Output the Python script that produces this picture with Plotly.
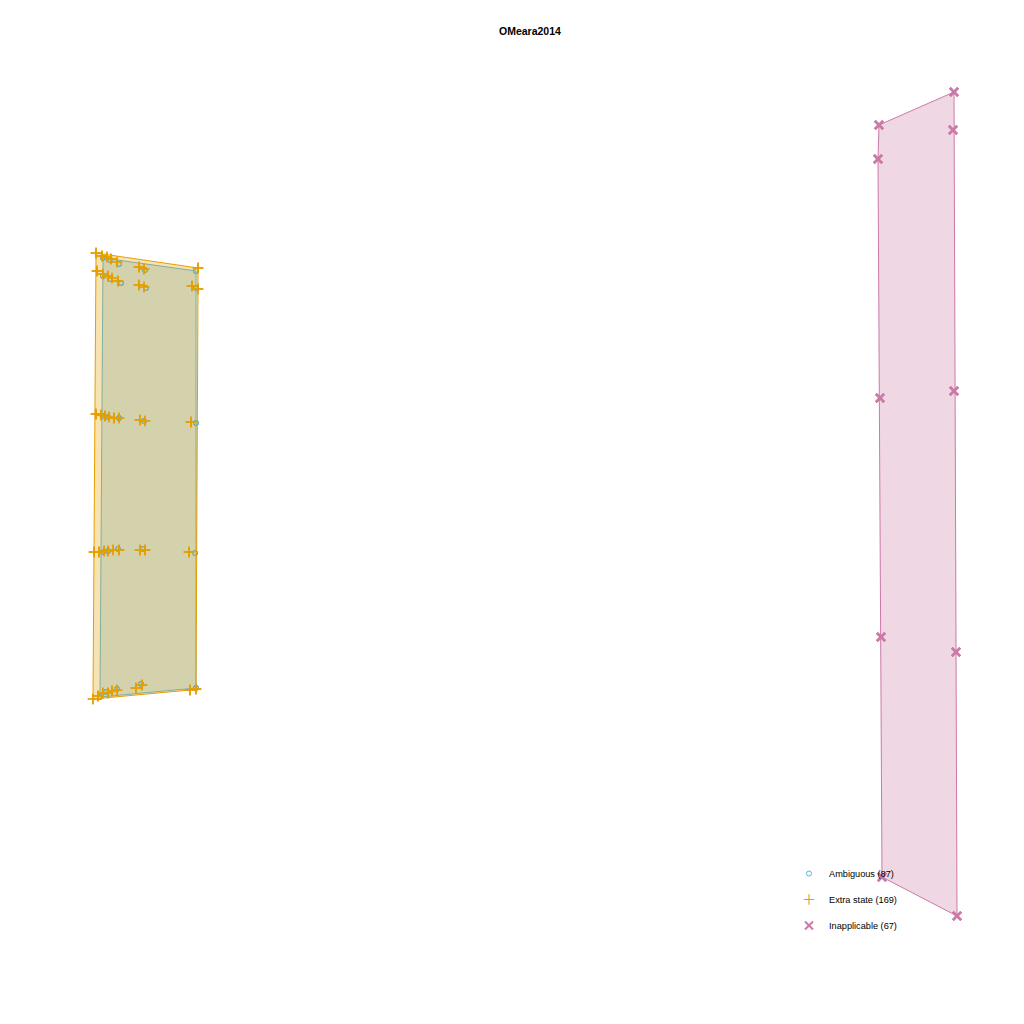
import numpy as np
import plotly.graph_objects as go

title_text = "OMeara2014"

# Group names and colours (Okabe-Ito)
groups = ["Ambiguous", "Extra state", "Inapplicable"]
colors = ["#56B4E9", "#E69F00", "#CC79A7"]
fills = ["rgba(86,180,233,0.3)", "rgba(230,159,0,0.3)", "rgba(204,121,167,0.3)"]

# Ordination coordinates, with multiplicity of overlapping points
amb_x = [103, 110, 119, 145, 196,
         103, 110, 121, 146, 196,
         103, 108, 119, 144, 196,
         103, 108, 118, 143, 195,
         100, 106, 117, 141, 196]
amb_y = [258, 260, 264, 270, 271,
         276, 279, 283, 288, 288,
         416, 417, 418, 421, 423,
         552, 551, 549, 549, 553,
         697, 692, 689, 684, 688]
amb_n = [3, 3, 3, 3, 4,
         3, 3, 4, 3, 4,
         4, 3, 4, 3, 4,
         3, 4, 3, 4, 3,
         4, 4, 3, 4, 4]

ext_x = [96, 102, 107, 111, 117, 139, 144, 198,
         97, 103, 108, 112, 118, 139, 144, 192, 198,
         96, 101, 105, 109, 114, 119, 140, 145, 191,
         94, 99, 104, 108, 113, 119, 140, 145, 189,
         93, 98, 103, 108, 112, 117, 136, 142, 190, 196]
ext_y = [253, 256, 257, 259, 262, 267, 269, 268,
         271, 274, 276, 278, 281, 285, 287, 286, 289,
         414, 415, 416, 417, 418, 418, 420, 421, 422,
         552, 552, 551, 551, 550, 550, 550, 550, 552,
         699, 696, 693, 693, 691, 690, 688, 685, 690, 689]
ext_n = [4, 4, 3, 4, 3, 4, 4, 4,
         4, 3, 4, 3, 4, 4, 3, 4, 4,
         4, 4, 4, 3, 4, 3, 4, 3, 4,
         4, 4, 4, 4, 3, 4, 4, 4, 4,
         3, 4, 4, 4, 4, 3, 4, 4, 4, 4]

ina_x = [879, 954, 878, 953, 880, 954, 881, 956, 882, 957]
ina_y = [125, 92, 159, 130, 398, 391, 637, 652, 877, 916]
ina_n = [7, 7, 7, 7, 7, 7, 7, 6, 6, 6]


def hull(px, py):
    pts = sorted(set(zip(px, py)))
    if len(pts) < 3:
        return pts

    def cross(o, a, b):
        return (a[0] - o[0]) * (b[1] - o[1]) - (a[1] - o[1]) * (b[0] - o[0])

    lower, upper = [], []
    for p in pts:
        while len(lower) >= 2 and cross(lower[-2], lower[-1], p) <= 0:
            lower.pop()
        lower.append(p)
    for p in reversed(pts):
        while len(upper) >= 2 and cross(upper[-2], upper[-1], p) <= 0:
            upper.pop()
        upper.append(p)
    h = lower[:-1] + upper[:-1]
    return h + [h[0]]


fig = go.Figure()

data = [(amb_x, amb_y, amb_n), (ext_x, ext_y, ext_n), (ina_x, ina_y, ina_n)]
markers = [dict(symbol="circle-open", size=5, line=dict(width=1)),
           dict(symbol="cross-thin-open", size=7.5, line=dict(width=1.1)),
           dict(symbol="x-thin-open", size=8, line=dict(width=2))]

for i, (gx, gy, gn) in enumerate(data):
    xs = np.repeat(gx, gn)
    ys = np.repeat(gy, gn)
    m = dict(markers[i])
    m["color"] = colors[i]
    m["line"] = dict(markers[i]["line"], color=colors[i])
    fig.add_trace(go.Scatter(
        x=xs, y=ys, mode="markers", marker=m,
        name=f"{groups[i]} ({len(xs)})", legendgroup=groups[i],
        showlegend=True, hoverinfo="skip"))
    h = hull(gx, gy)
    fig.add_trace(go.Scatter(
        x=[p[0] for p in h], y=[p[1] for p in h], mode="lines",
        fill="toself", fillcolor=fills[i],
        line=dict(color=colors[i], width=1),
        legendgroup=groups[i], showlegend=False, hoverinfo="skip"))

fig.update_layout(
    width=1024, height=1024,
    margin=dict(l=0, r=0, t=0, b=0),
    paper_bgcolor="white", plot_bgcolor="white",
    xaxis=dict(range=[0, 1024], visible=False),
    yaxis=dict(range=[1024, 0], visible=False),
    font=dict(family="Liberation Sans, Arial, sans-serif", color="black"),
    showlegend=True,
    legend=dict(x=789 / 1024, y=1 - 859 / 1024, xanchor="left", yanchor="top",
                font=dict(size=9.2), tracegroupgap=7, bgcolor="rgba(0,0,0,0)"),
    annotations=[dict(text="<b>" + title_text + "</b>", x=530 / 1024, y=1 - 31 / 1024,
                      xref="paper", yref="paper", showarrow=False,
                      font=dict(size=10.5), xanchor="center", yanchor="middle")],
)

fig.write_html("out.html")
